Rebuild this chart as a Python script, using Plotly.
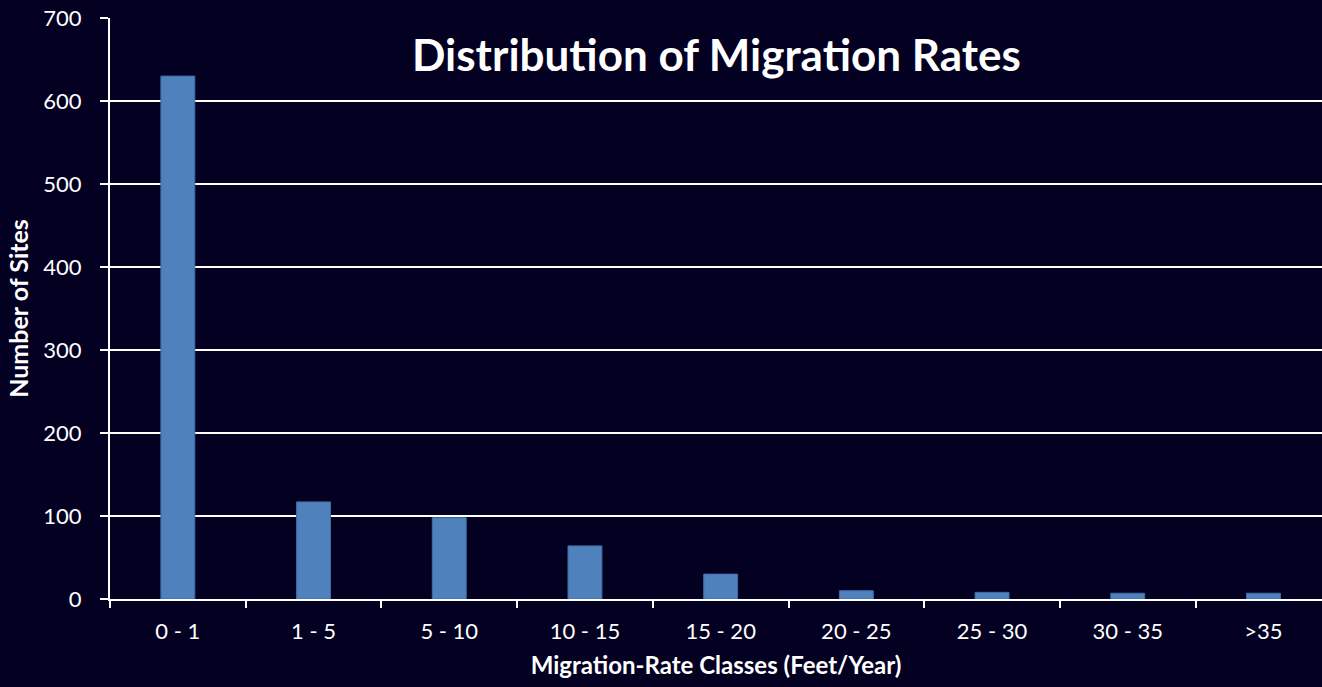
import plotly.graph_objects as go

categories = ["0 - 1", "1 - 5", "5 - 10", "10 - 15", "15 - 20",
              "20 - 25", "25 - 30", "30 - 35", ">35"]
site_counts = [630, 117, 98, 64, 30, 10, 8, 7, 7]
y_ticks = [0, 100, 200, 300, 400, 500, 600, 700]

BG = "#030022"
BAR = "#4f81bd"
FONT = "Lato, 'Open Sans', sans-serif"

fig = go.Figure(
    go.Bar(
        x=categories,
        y=site_counts,
        width=0.25,
        marker=dict(color=BAR, line=dict(color="#3f6ca4", width=1)),
    )
)

fig.update_layout(
    width=1322,
    height=687,
    paper_bgcolor=BG,
    plot_bgcolor=BG,
    margin=dict(l=110, r=0, t=18, b=88),
    showlegend=False,
    font=dict(family=FONT, color="white"),
    annotations=[
        dict(
            text="<b>Distribution of Migration Rates</b>",
            xref="paper", yref="paper",
            x=0.5, y=0.938, xanchor="center", yanchor="middle",
            showarrow=False,
            font=dict(family=FONT, size=44, color="white"),
        )
    ],
)

fig.update_xaxes(
    type="category",
    categoryorder="array",
    categoryarray=categories,
    range=[-0.5, -0.5 + 1212 / 135.7],
    tickson="boundaries",
    ticks="outside",
    ticklen=7,
    tickwidth=2,
    tickcolor="white",
    showline=True,
    linecolor="white",
    linewidth=2,
    showgrid=False,
    zeroline=False,
    tickfont=dict(size=22, color="white"),
    ticklabelstandoff=12,
    title=dict(text="<b>Migration-Rate Classes (Feet/Year)</b>",
               font=dict(size=24, color="white"), standoff=14),
)

fig.update_yaxes(
    range=[0, 700],
    tickmode="array",
    tickvals=y_ticks,
    ticks="outside",
    ticklen=8,
    tickwidth=2,
    tickcolor="white",
    showline=True,
    linecolor="white",
    linewidth=2,
    showgrid=True,
    gridcolor="white",
    gridwidth=2,
    zeroline=False,
    tickfont=dict(size=22, color="white"),
    ticklabelstandoff=14,
    title=dict(text="<b>Number of Sites</b>",
               font=dict(size=25, color="white"), standoff=8),
)

fig.write_html("out.html")
